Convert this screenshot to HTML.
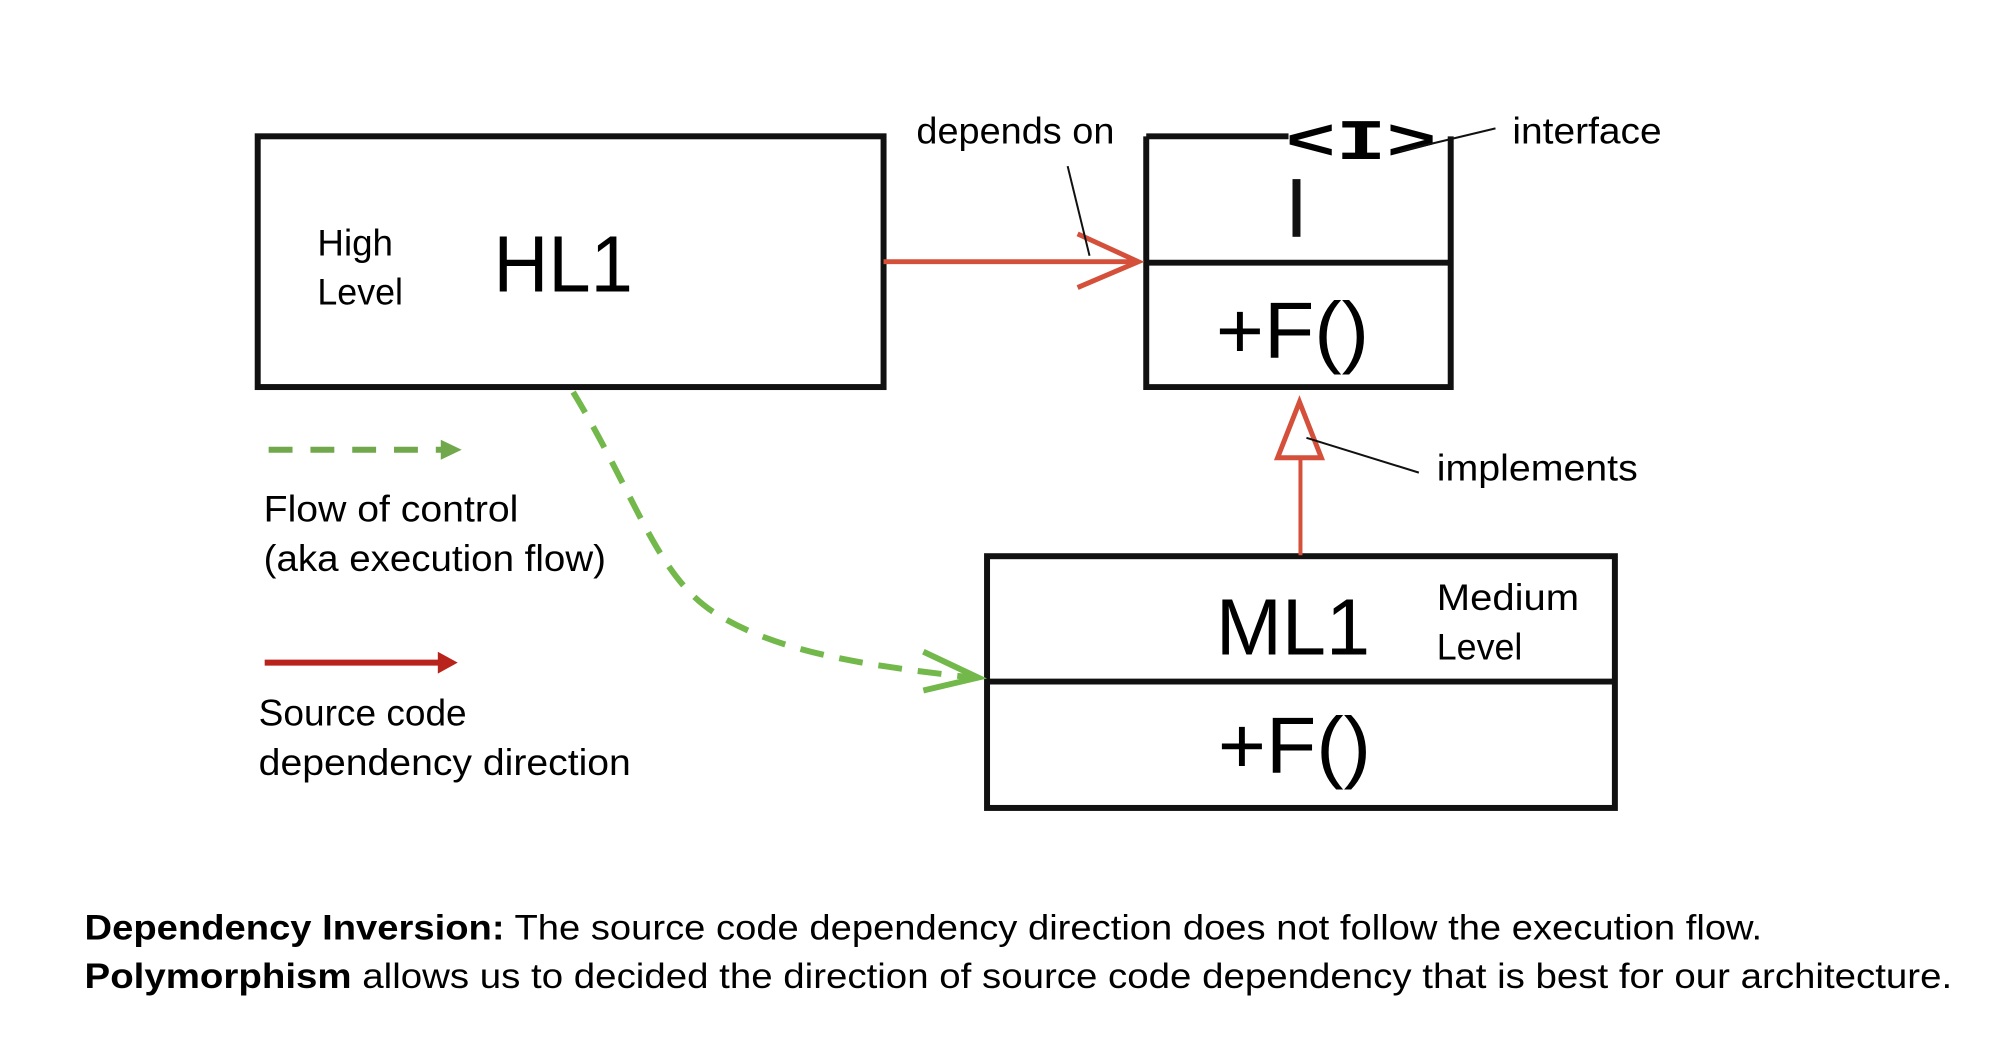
<!DOCTYPE html>
<html><head><meta charset="utf-8"><style>
html,body{margin:0;padding:0;background:#fff;}
svg{display:block;}
text{font-family:"Liberation Sans",sans-serif;fill:#000;}
</style></head><body>
<svg width="2004" height="1058" viewBox="0 0 2004 1058" xmlns="http://www.w3.org/2000/svg">
<g transform="scale(0.995)">
<!-- HL1 box -->
<rect x="259" y="137" width="629" height="252" fill="none" stroke="#111" stroke-width="6"/>
<text x="319" y="257" font-size="37" textLength="76" lengthAdjust="spacingAndGlyphs">High</text>
<text x="319" y="306" font-size="37" textLength="86" lengthAdjust="spacingAndGlyphs">Level</text>
<text x="496" y="293" font-size="80" textLength="140" lengthAdjust="spacingAndGlyphs">HL1</text>

<!-- Interface box -->
<path d="M1152 137 H1295 M1458 137 V389 H1152 V137" fill="none" stroke="#111" stroke-width="6"/>
<line x1="1152" y1="264" x2="1458" y2="264" stroke="#111" stroke-width="6"/>
<text x="1292" y="160" font-size="58" font-weight="bold" textLength="152" lengthAdjust="spacingAndGlyphs" style="font-family:'Liberation Mono',monospace">&lt;I&gt;</text>
<rect x="1299" y="180" width="8" height="58" fill="#111"/>
<text x="1222" y="360" font-size="80" textLength="154" lengthAdjust="spacingAndGlyphs">+F()</text>

<!-- ML1 box -->
<rect x="992" y="559" width="631" height="253" fill="none" stroke="#111" stroke-width="6"/>
<line x1="992" y1="685" x2="1623" y2="685" stroke="#111" stroke-width="6"/>
<text x="1222" y="658" font-size="80" textLength="155" lengthAdjust="spacingAndGlyphs">ML1</text>
<text x="1444" y="613" font-size="37" textLength="143" lengthAdjust="spacingAndGlyphs">Medium</text>
<text x="1444" y="663" font-size="37" textLength="86" lengthAdjust="spacingAndGlyphs">Level</text>
<text x="1224" y="777" font-size="80" textLength="154" lengthAdjust="spacingAndGlyphs">+F()</text>

<!-- depends arrow -->
<line x1="888" y1="263" x2="1144" y2="263" stroke="#d4503a" stroke-width="5"/>
<polyline points="1083,235 1144,263 1083,289" fill="none" stroke="#d4503a" stroke-width="5"/>
<text x="921" y="144" font-size="37" textLength="199" lengthAdjust="spacingAndGlyphs">depends on</text>
<line x1="1073" y1="167" x2="1095" y2="257" stroke="#111" stroke-width="2"/>

<!-- interface label -->
<text x="1520" y="144" font-size="37" textLength="150" lengthAdjust="spacingAndGlyphs">interface</text>
<line x1="1503" y1="129" x2="1407" y2="152" stroke="#111" stroke-width="2"/>

<!-- implements -->
<line x1="1307" y1="558" x2="1307" y2="462" stroke="#d4503a" stroke-width="4"/>
<polygon points="1306,404 1284,460 1328,460" fill="#fff" stroke="#d4503a" stroke-width="5"/>
<text x="1444" y="483" font-size="37" textLength="202" lengthAdjust="spacingAndGlyphs">implements</text>
<line x1="1426" y1="475" x2="1313" y2="440" stroke="#111" stroke-width="2"/>

<!-- green flow -->
<path d="M576 394 C 640 500, 660 580, 720 617 S 860 668, 978 681" fill="none" stroke="#72b84a" stroke-width="6" stroke-dasharray="24 16"/>
<polyline points="928,655 983,681 928,694" fill="none" stroke="#72b84a" stroke-width="6"/>

<!-- legend -->
<line x1="270" y1="452" x2="448" y2="452" stroke="#70a84b" stroke-width="6" stroke-dasharray="24 18"/>
<polygon points="443,442 464,452 443,462" fill="#70a84b"/>
<text x="265" y="524" font-size="37" textLength="256" lengthAdjust="spacingAndGlyphs">Flow of control</text>
<text x="265" y="574" font-size="37" textLength="344" lengthAdjust="spacingAndGlyphs">(aka execution flow)</text>
<line x1="266" y1="666" x2="445" y2="666" stroke="#b8231c" stroke-width="6"/>
<polygon points="440,655 460,666 440,677" fill="#b8231c"/>
<text x="260" y="729" font-size="37" textLength="209" lengthAdjust="spacingAndGlyphs">Source code</text>
<text x="260" y="779" font-size="37" textLength="374" lengthAdjust="spacingAndGlyphs">dependency direction</text>

<!-- bottom -->
<text x="85" y="944" font-size="35" textLength="1686" lengthAdjust="spacingAndGlyphs"><tspan font-weight="bold">Dependency Inversion:</tspan> The source code dependency direction does not follow the execution flow.</text>
<text x="85" y="993" font-size="35" textLength="1877" lengthAdjust="spacingAndGlyphs"><tspan font-weight="bold">Polymorphism</tspan> allows us to decided the direction of source code dependency that is best for our architecture.</text>
</g>
</svg>
</body></html>
